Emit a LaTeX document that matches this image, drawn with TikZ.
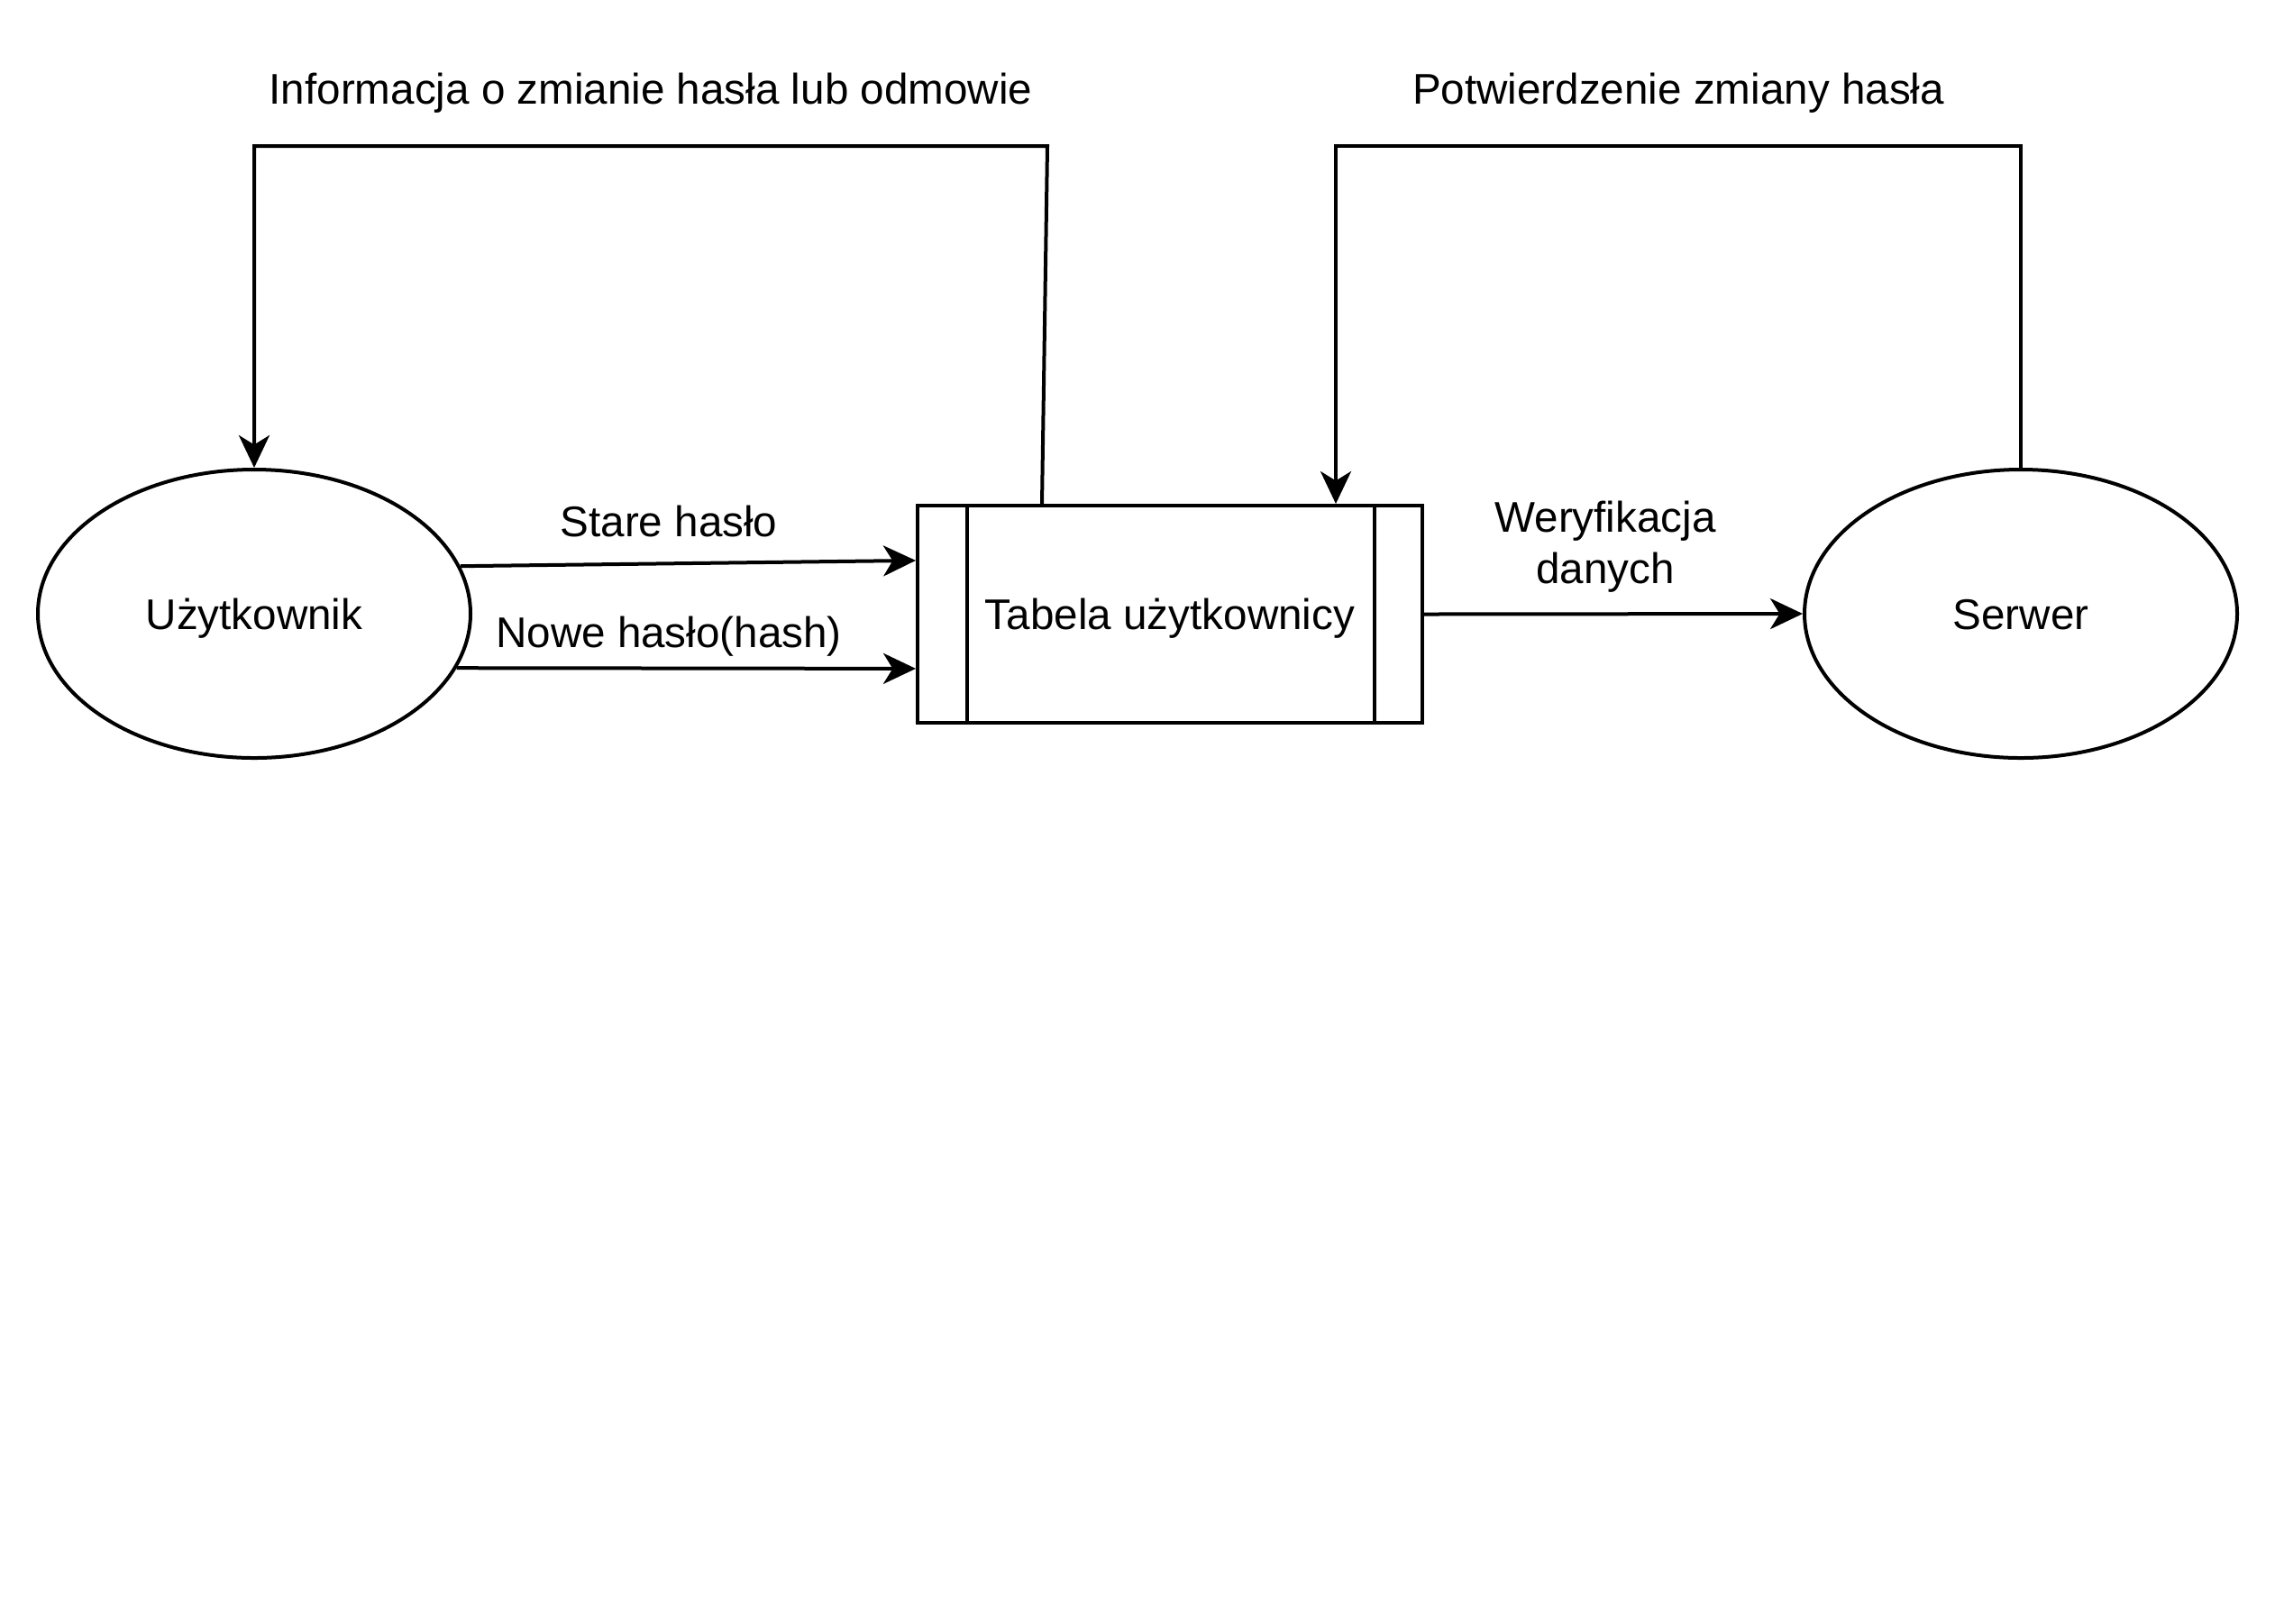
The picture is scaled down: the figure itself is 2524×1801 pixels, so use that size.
\documentclass[tikz,border=0pt]{standalone}
\usepackage{fontspec}
\setmainfont{Liberation Sans}
\usetikzlibrary{shapes.geometric,arrows.meta}

\tikzset{every picture/.style={line width=1pt}}
\tikzset{
	proc/.style={draw, ellipse, inner sep=0pt, minimum width=120pt, minimum height=80pt, text height=9.8pt, text depth=1.2pt},
	store/.style={draw, rectangle, inner sep=0pt, minimum width=140pt, minimum height=60.25pt, text height=9.8pt, text depth=1.2pt},
	flow/.style={-{Stealth[length=9pt,width=8.5pt,inset=2.6pt]}},
	lbl/.style={inner sep=0pt, align=center}
}

\begin{document}
\begin{tikzpicture}[x=0.25pt,y=0.25pt,yscale=-1,xscale=1,font=\fontsize{11.9}{14.3}\selectfont]
	\useasboundingbox (0,0) rectangle (2524,1801);

	%Shape: Ellipse [id:uzyt]
	\node[proc] (uzyt) at (282,681) {Użytkownik};
	%Shape: Rectangle [id:tabela]
	\node[store] (tabela) at (1298,681.5) {Tabela użytkownicy};
	\draw ([xshift=14.25pt]tabela.north west) -- ([xshift=14.25pt]tabela.south west);
	\draw ([xshift=-13.75pt]tabela.north east) -- ([xshift=-13.75pt]tabela.south east);
	%Shape: Ellipse [id:serwer]
	\node[proc] (serwer) at (2242,681) {Serwer};

	%Straight Lines
	\draw[flow] (uzyt.13.7) -- ([yshift=-14.9pt]tabela.west);
	%Straight Lines
	\draw[flow] (uzyt.-15.7) -- ([yshift=15.1pt]tabela.west);
	%Straight Lines
	\draw[flow] (tabela.east) -- (serwer.west);

	%Connector lines
	\coordinate (infoTop) at (1162,162);
	\coordinate (potwTop) at (1482,162);
	\draw[flow] ([xshift=35pt]tabela.north west) -- (infoTop) -- (uzyt.north |- infoTop) -- (uzyt.north);
	\draw[flow] (serwer.north) -- (serwer.north |- potwTop) -- (potwTop) -- ([xshift=46pt]tabela.north);

	% Text Node
	\node[lbl] (infoLbl) at (722,103) {Informacja o zmianie hasła lub odmowie};
	% Text Node
	\node[lbl] (potwLbl) at (1862,103) {Potwierdzenie zmiany hasła};
	% Text Node
	\node[lbl] (stareLbl) at (742,578) {Stare hasło};
	% Text Node
	\node[lbl] (noweLbl) at (742,706) {Nowe hasło(hash)};
	% Text Node
	\node[lbl] (weryLbl) at (1781,607) {Weryfikacja\\danych};

\end{tikzpicture}
\end{document}
